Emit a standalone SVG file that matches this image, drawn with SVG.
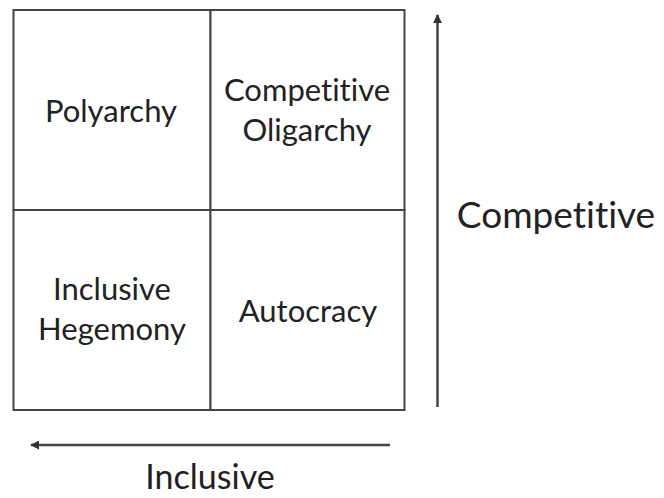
<svg xmlns="http://www.w3.org/2000/svg" width="664" height="498" viewBox="0 0 664 498">
<style>
.cell{fill:#fff;stroke:#444;stroke-width:2}
.t{font-family:Lato,"Open Sans","Liberation Sans",sans-serif;fill:#222;text-anchor:middle;font-variant-ligatures:none}
.q{font-size:31px}
.ax{font-size:37px}
.conn{stroke:#444;stroke-width:2.5;fill:none}
</style>
<defs>
<marker id="ah" viewBox="0 0 10 10" refX="9" refY="5" markerWidth="3.6" markerHeight="3.6" orient="auto" markerUnits="strokeWidth">
<path d="M0,0 L10,5 L0,10 z" fill="#333"/>
</marker>
</defs>
<rect width="664" height="498" fill="#fff"/>
<g id="polyarchy">
<rect class="cell" x="13.5" y="10" width="197" height="200"/>
<text class="t q" x="111" y="122">Polyarchy</text>
</g>
<g id="competitive-oligarchy">
<rect class="cell" x="210.5" y="10" width="194" height="200"/>
<text class="t q" x="307" y="101">Competitive</text>
<text class="t q" x="307" y="141">Oligarchy</text>
</g>
<g id="inclusive-hegemony">
<rect class="cell" x="13.5" y="210" width="197" height="200"/>
<text class="t q" x="112" y="300">Inclusive</text>
<text class="t q" x="112" y="340">Hegemony</text>
</g>
<g id="autocracy">
<rect class="cell" x="210.5" y="210" width="194" height="200"/>
<text class="t q" x="308" y="322">Autocracy</text>
</g>
<g id="connectors">
<line class="conn" x1="437.5" y1="407" x2="437.5" y2="15" marker-end="url(#ah)"/>
<line class="conn" x1="390" y1="445" x2="31" y2="445" marker-end="url(#ah)"/>
</g>
<g id="axis-labels">
<text class="t ax" x="556" y="228">Competitive</text>
<text class="t" style="font-size:34px" x="210" y="489">Inclusive</text>
</g>
</svg>
